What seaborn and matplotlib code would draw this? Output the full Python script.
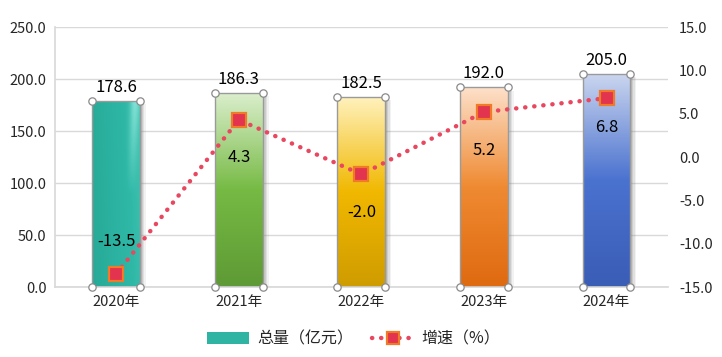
import numpy as np
import pandas as pd
import seaborn as sns
import matplotlib.pyplot as plt
from matplotlib.colors import LinearSegmentedColormap
from matplotlib.patches import Patch
from matplotlib.lines import Line2D

# chart data
years = ['2020年', '2021年', '2022年', '2023年', '2024年']
totals = [178.6, 186.3, 182.5, 192.0, 205.0]
growth = [-13.5, 4.3, -2.0, 5.2, 6.8]
left_ticks = [0, 50, 100, 150, 200, 250]
right_ticks = [-15, -10, -5, 0, 5, 10, 15]

# gradient colours (bottom, middle, top) for each bar
bar_grads = [('#22a08e', '#2fb8a6', '#7fe0d4'),
             ('#5e9a35', '#76ba44', '#daeecb'),
             ('#cf9c00', '#f1b800', '#fff1bb'),
             ('#df6a10', '#ef8a32', '#fde0c9'),
             ('#3a5db6', '#4a72cf', '#cbd6ef')]

sns.set_theme(style='white')
plt.rcParams['font.family'] = ['Noto Sans CJK SC', 'DejaVu Sans']

df = pd.DataFrame({'year': years, 'total': totals, 'growth': growth})

fig = plt.figure(figsize=(7.22, 3.57), dpi=100)
ax = fig.add_axes([0.076, 0.196, 0.849, 0.728])

sns.barplot(data=df, x='year', y='total', width=0.39, ax=ax, color='#2fb3a3')

ax.grid(axis='y', color='#d9d9d9', linewidth=1, zorder=0)
ax.set_axisbelow(True)
ax.set_xlabel('')
ax.set_ylabel('')
for s in ['top', 'right']:
    ax.spines[s].set_visible(False)
for s in ['left', 'bottom']:
    ax.spines[s].set_color('#d9d9d9')

# gradient fill, shadow, corner handles
for i, p in enumerate(list(ax.patches)):
    p.set_facecolor('none')
    p.set_edgecolor('#9a9a9a')
    p.set_linewidth(1.0)
    p.set_zorder(3)
    x0, y0 = p.get_x(), p.get_y()
    w, h = p.get_width(), p.get_height()
    bot, mid, top = bar_grads[i]
    if i == 0:
        cmap = LinearSegmentedColormap.from_list('g', [bot, mid, top])
        gx = np.linspace(0, 1, 120).reshape(1, -1)
        gy = np.linspace(0, 1, 120).reshape(-1, 1)
        base = 0.2 + 0.35 * gx + 0.05 * gy
        hl = 0.45 * np.exp(-((gx - 0.75 - 0.15 * gy) / 0.1) ** 2) * np.clip(gy - 0.5, 0, 1) * 2
        grad = np.clip(base + hl, 0, 1)
    else:
        cmap = LinearSegmentedColormap.from_list('g', [(0, bot), (0.5, mid), (1, top)])
        grad = np.linspace(0, 1, 200).reshape(-1, 1)
    for k, a in enumerate([0.25, 0.2, 0.15, 0.1]):
        ax.add_patch(plt.Rectangle((x0 + w, y0), 0.012 * (k + 1), h - 3,
                                   color='#808080', alpha=a, zorder=2, linewidth=0))
    im = ax.imshow(grad, cmap=cmap, aspect='auto', origin='lower',
                   extent=[x0, x0 + w, y0, y0 + h], zorder=2.5, vmin=0, vmax=1)
    im.set_clip_path(p)
    ax.scatter([x0, x0 + w, x0, x0 + w], [y0, y0, y0 + h, y0 + h], s=28,
               facecolor='white', edgecolor='#8a8a8a', linewidth=0.9, zorder=4,
               clip_on=False)
    ax.text(x0 + w / 2, y0 + h + 5, f'{totals[i]:.1f}', ha='center', va='bottom',
            fontsize=12, color='black', zorder=5)

ax.set_xlim(-0.5, 4.5)
ax.set_ylim(0, 250)
ax.set_yticks(left_ticks)
ax.set_yticklabels([f'{v:.1f}' for v in left_ticks], fontsize=10.5)
ax.tick_params(axis='x', labelsize=10.5, length=0, pad=6)
ax.tick_params(axis='y', length=0, pad=6)

# growth line on right axis
ax2 = ax.twinx()
ax2.set_ylim(-15, 15)
ax2.set_yticks(right_ticks)
ax2.set_yticklabels([f'{v:.1f}' for v in right_ticks], fontsize=10.5)
ax2.tick_params(axis='y', length=0, pad=8)
for s in ax2.spines.values():
    s.set_visible(False)
ax2.grid(False)

ax2.plot(range(len(years)), growth, color='#e8475f', linewidth=3.2,
         linestyle=(0, (0.05, 2.0)), dash_capstyle='round', zorder=3)
ax2.plot(range(len(years)), growth, linestyle='none', marker='s', markersize=10,
         markerfacecolor='#e2334f', markeredgecolor='#f07a28', markeredgewidth=1.6,
         zorder=4)

offsets = [3.8, -4.3, -4.4, -4.4, -3.4]
for i, g in enumerate(growth):
    ax2.text(i, g + offsets[i], f'{g:.1f}', ha='center', va='center',
             fontsize=12, color='black', zorder=5)

handles = [Patch(facecolor='#2fb3a3', edgecolor='none'),
           Line2D([0], [0], color='#e8475f', linewidth=3.2, linestyle=(0, (0.05, 2.0)),
                  dash_capstyle='round', marker='s', markersize=9,
                  markerfacecolor='#e2334f', markeredgecolor='#f07a28',
                  markeredgewidth=1.6)]
fig.legend(handles, ['总量（亿元）', '增速（%）'], loc='center', ncol=2,
           bbox_to_anchor=(0.49, 0.05), frameon=False, fontsize=11.5,
           handlelength=2.6, columnspacing=1.2, handletextpad=0.5)

fig.savefig('out.png', dpi=100)
